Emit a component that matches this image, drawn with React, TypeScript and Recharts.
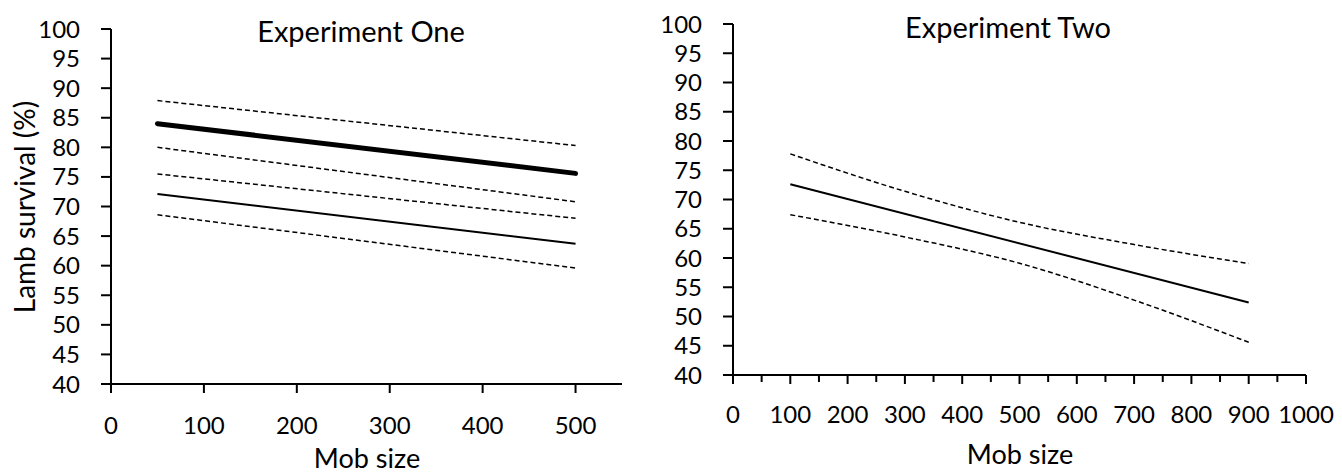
import { LineChart, Line, XAxis, YAxis } from "recharts";

// Experiment One: two groups, each with a fitted line and dashed 95% bands
const oneX = [50, 500];
const oneHighUpper = [87.9, 80.3];
const oneHighMean = [84.0, 75.6];
const oneHighLower = [80.0, 70.8];
const oneLowUpper = [75.5, 68.0];
const oneLowMean = [72.1, 63.7];
const oneLowLower = [68.6, 59.6];

// Experiment Two: fitted line with curved bands
const twoMeanX = [100, 900];
const twoMean = [72.6, 52.4];
const twoBandX = [100, 300, 500, 700, 900];
const twoUpper = [77.8, 71.4, 66.1, 62.3, 59.05];
const twoLower = [67.4, 63.6, 59.1, 52.8, 45.6];

const yTicks = [40, 45, 50, 55, 60, 65, 70, 75, 80, 85, 90, 95, 100];
const oneXTicks = [0, 100, 200, 300, 400, 500];
const twoXTicks = [0, 50, 100, 150, 200, 250, 300, 350, 400, 450, 500, 550, 600, 650, 700, 750, 800, 850, 900, 950, 1000];

const FONT = "Lato";
const TICK_FS = 24;
const tickStyle = { fill: "#000", fontSize: TICK_FS, fontFamily: FONT };
const axisLine = { stroke: "#000", strokeWidth: 2 };

const pts = (xs: number[], ys: number[]) => xs.map((x, i) => ({ x, y: ys[i] }));

const TWO_TICK = 9;
const TWO_MINOR = 7;
const TWO_GAP = 22;

function TwoTick(props: any) {
  const { x, y, payload } = props;
  const v = payload.value;
  const major = v % 100 === 0;
  const ay = y - TWO_TICK - TWO_GAP;
  return (
    <g>
      <line x1={x} x2={x} y1={ay} y2={ay + (major ? TWO_TICK : TWO_MINOR)} stroke="#000" strokeWidth={2} />
      {major && (
        <text x={x} y={y} dy="0.71em" textAnchor="middle" fontSize={TICK_FS} fontFamily={FONT} fill="#000">
          {v}
        </text>
      )}
    </g>
  );
}

const dashed = { stroke: "#000", strokeWidth: 1.5, strokeDasharray: "5 3" };

export default function App() {
  return (
    <div style={{ position: "absolute", left: 0, top: 0, width: 1342, height: 474, background: "#fff" }}>
      <div style={{ position: "absolute", left: 0, top: 0 }}>
        <LineChart width={640} height={474} margin={{ top: 29, right: 18, bottom: 30, left: 0 }}>
          <XAxis
            type="number"
            dataKey="x"
            domain={[0, 550]}
            ticks={oneXTicks}
            interval={0}
            tickSize={9}
            tickMargin={24}
            height={60}
            axisLine={axisLine}
            tickLine={axisLine}
            tick={tickStyle}
            allowDuplicatedCategory={false}
          />
          <YAxis
            type="number"
            domain={[40, 100]}
            ticks={yTicks}
            interval={0}
            width={111}
            tickSize={10}
            tickMargin={21}
            axisLine={axisLine}
            tickLine={axisLine}
            tick={tickStyle}
          />
          <Line data={pts(oneX, oneHighUpper)} dataKey="y" dot={false} {...dashed} isAnimationActive={false} />
          <Line data={pts(oneX, oneHighMean)} dataKey="y" dot={false} stroke="#000" strokeWidth={5} strokeLinecap="round" isAnimationActive={false} />
          <Line data={pts(oneX, oneHighLower)} dataKey="y" dot={false} {...dashed} isAnimationActive={false} />
          <Line data={pts(oneX, oneLowUpper)} dataKey="y" dot={false} {...dashed} isAnimationActive={false} />
          <Line data={pts(oneX, oneLowMean)} dataKey="y" dot={false} stroke="#000" strokeWidth={2} isAnimationActive={false} />
          <Line data={pts(oneX, oneLowLower)} dataKey="y" dot={false} {...dashed} isAnimationActive={false} />
        </LineChart>
      </div>
      <div style={{ position: "absolute", left: 640, top: 0 }}>
        <LineChart width={702} height={474} margin={{ top: 24, right: 36, bottom: 39, left: 0 }}>
          <XAxis
            type="number"
            dataKey="x"
            domain={[0, 1000]}
            ticks={twoXTicks}
            interval={0}
            tickSize={TWO_TICK}
            tickMargin={TWO_GAP}
            height={60}
            axisLine={axisLine}
            tickLine={false}
            tick={<TwoTick />}
            allowDuplicatedCategory={false}
          />
          <YAxis
            type="number"
            domain={[40, 100]}
            ticks={yTicks}
            interval={0}
            width={93}
            tickSize={10}
            tickMargin={21}
            axisLine={axisLine}
            tickLine={axisLine}
            tick={tickStyle}
          />
          <Line data={pts(twoBandX, twoUpper)} type="monotone" dataKey="y" dot={false} {...dashed} isAnimationActive={false} />
          <Line data={pts(twoMeanX, twoMean)} dataKey="y" dot={false} stroke="#000" strokeWidth={2} isAnimationActive={false} />
          <Line data={pts(twoBandX, twoLower)} type="monotone" dataKey="y" dot={false} {...dashed} isAnimationActive={false} />
        </LineChart>
      </div>
      <svg width={1342} height={474} style={{ position: "absolute", left: 0, top: 0, pointerEvents: "none" }}>
        <g fontFamily={FONT} fill="#000" textAnchor="middle">
          <text x={361} y={42} fontSize={29}>Experiment One</text>
          <text x={1008} y={38} fontSize={29}>Experiment Two</text>
          <text x={367} y={468} fontSize={27}>Mob size</text>
          <text x={1020} y={464} fontSize={27}>Mob size</text>
          <text transform="translate(35,207) rotate(-90)" fontSize={28}>Lamb survival (%)</text>
        </g>
      </svg>
    </div>
  );
}
